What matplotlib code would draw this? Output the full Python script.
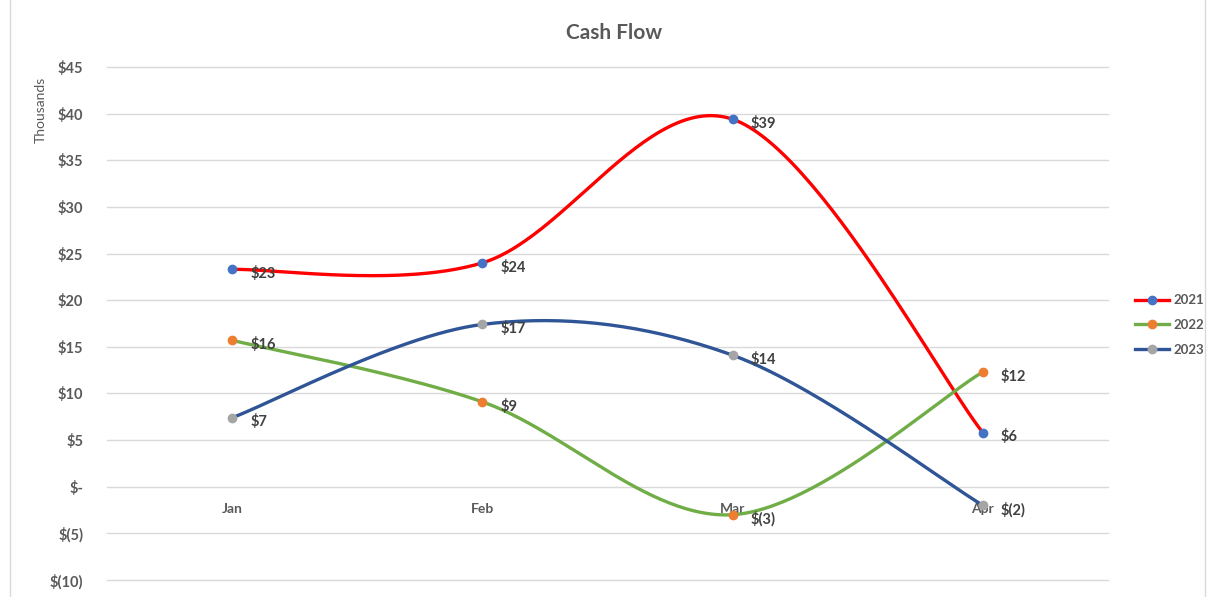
import numpy as np
import matplotlib
matplotlib.use("Agg")
import matplotlib.pyplot as plt
from matplotlib.lines import Line2D
from matplotlib.patches import Rectangle

months = ["Jan", "Feb", "Mar", "Apr"]
years = ["2021", "2022", "2023"]
v2021 = [23.3, 24.0, 39.4, 5.8]
v2022 = [15.7, 9.1, -3.0, 12.3]
v2023 = [7.4, 17.4, 14.1, -2.0]
yticks = [45, 40, 35, 30, 25, 20, 15, 10, 5, 0, -5, -10]

line_colors = ["#FF0000", "#70AD47", "#2F5597"]
marker_colors = ["#4472C4", "#ED7D31", "#A5A5A5"]
series = [v2021, v2022, v2023]

plt.rcParams['font.family'] = ['Lato', 'DejaVu Sans']
TXT = "#595959"


def fmt(v):
    r = int(round(abs(v)))
    if r == 0:
        return "$-"
    return f"$({r})" if v < 0 else f"${r}"


def smooth(y, n=60):
    x = np.arange(len(y), dtype=float)
    P = np.column_stack([x, np.asarray(y, float)])
    P = np.vstack([P[0], P, P[-1]])
    out = []
    for i in range(1, len(P) - 2):
        p0, p1, p2, p3 = P[i - 1], P[i], P[i + 1], P[i + 2]
        c1 = p1 + (p2 - p0) / 6.0
        c2 = p2 - (p3 - p1) / 6.0
        t = np.linspace(0, 1, n)[:, None]
        b = ((1 - t) ** 3) * p1 + 3 * ((1 - t) ** 2) * t * c1 + 3 * (1 - t) * t ** 2 * c2 + t ** 3 * p2
        out.append(b if i == 1 else b[1:])
    B = np.vstack(out)
    return B[:, 0], B[:, 1]


fig = plt.figure(figsize=(12.07, 5.97), dpi=100)
fig.patches.append(Rectangle((0.008, -0.01), 0.99, 1.02, transform=fig.transFigure,
                             fill=False, edgecolor="#D9D9D9", linewidth=1.0))
ax = fig.add_axes([107 / 1207, 1 - 580 / 597, (1108 - 107) / 1207, (580 - 67) / 597])
ax.set_xlim(-0.5, 3.5)
ax.set_ylim(-10, 45)
for s in ax.spines.values():
    s.set_visible(False)
ax.set_yticks(yticks)
ax.set_yticklabels([fmt(v) for v in yticks], fontweight="bold", color=TXT, fontsize=10.5)
ax.tick_params(axis="y", length=0, pad=17)
ax.set_xticks([])
ax.grid(axis="y", color="#D9D9D9", linewidth=1.0)
for gl in ax.get_ygridlines():
    gl.set_clip_on(False)
ax.set_axisbelow(True)

x = np.arange(len(months))
for m, xi in zip(months, x):
    ax.annotate(m, (xi, 0), xytext=(0, -16), textcoords="offset points", ha="center",
                va="center", fontsize=10, fontweight="bold", color=TXT)

handles = []
for vals, lc, mc, yr in zip(series, line_colors, marker_colors, years):
    sx, sy = smooth(vals)
    ax.plot(sx, sy, color=lc, linewidth=2.4, zorder=3)
    ax.plot(x, vals, linestyle="none", marker="o", markersize=6, color=mc, zorder=4)
    for xi, v in zip(x, vals):
        ax.annotate(fmt(v), (xi, v), xytext=(13, -3), textcoords="offset points",
                    ha="left", va="center", fontsize=10.5, fontweight="bold", color="#404040",
                    zorder=5)
    handles.append(Line2D([0], [0], color=lc, linewidth=2.4, marker="o", markersize=6,
                          markerfacecolor=mc, markeredgecolor=mc))

fig.legend(handles, years, loc="center left", bbox_to_anchor=(1123 / 1207, 1 - 325 / 597),
           frameon=False, handlelength=2.6, handletextpad=0.3, labelspacing=0.95,
           prop={"weight": "bold", "size": 9.5}, labelcolor=TXT)

fig.text(614 / 1207, 1 - 33 / 597, "Cash Flow", ha="center", va="center", fontsize=15,
         fontweight="bold", color=TXT)
fig.text(41 / 1207, 1 - 110 / 597, "Thousands", ha="center", va="center", rotation=90,
         fontsize=10, color=TXT)

fig.savefig("out.png", dpi=100)
